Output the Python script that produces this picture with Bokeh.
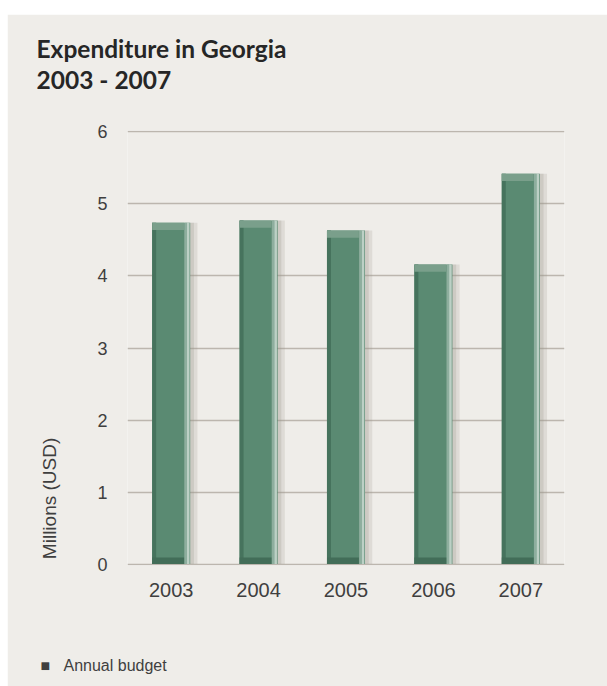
import numpy as np
from bokeh.plotting import figure
from bokeh.models import Range1d, FactorRange, ColumnDataSource, Title
from bokeh.transform import dodge
from bokeh.embed import file_html
from bokeh.resources import INLINE

# ---- data ----
years = ["2003", "2004", "2005", "2006", "2007"]
budget = [4.74, 4.77, 4.63, 4.16, 5.42]
y_ticks = [0, 1, 2, 3, 4, 5, 6]
title_lines = ["Expenditure in Georgia", "2003 - 2007"]
y_label = "Millions (USD)"
legend_label = "Annual budget"

BG = "#efede9"
TXT = "#3f3f3f"

b = np.array(budget)
src = ColumnDataSource(dict(year=years, budget=b, top_lo=b - 0.1,
                            zero=np.zeros(len(b)), bot_hi=np.full(len(b), 0.09)))

p = figure(x_range=FactorRange(*years), y_range=Range1d(-0.02, 6.02),
           frame_width=437, frame_height=435,
           min_border_left=120, min_border_right=43,
           min_border_top=116, min_border_bottom=121,
           output_backend="svg", toolbar_location=None,
           background_fill_color=BG, border_fill_color=BG,
           outline_line_color=None)
p.margin = (14, 0, 0, 7)

# grid
p.xgrid.grid_line_color = None
p.ygrid.ticker = y_ticks
p.ygrid.grid_line_color = "#bcb6ae"
p.ygrid.grid_line_width = 1.5
p.yaxis.ticker = y_ticks

for ax in (p.xaxis, p.yaxis):
    ax.axis_line_color = None
    ax.major_tick_line_color = None
    ax.minor_tick_line_color = None
    ax.major_label_text_font = "Liberation Sans"
    ax.major_label_text_color = TXT
p.xaxis.major_label_text_font_size = "20px"
p.yaxis.major_label_text_font_size = "18px"
p.xaxis.major_label_standoff = 11
p.yaxis.major_label_standoff = 14

# y-axis label, shifted toward the bottom of the axis with trailing no-break spaces
p.yaxis.axis_label = y_label + "\u00a0" * 57
p.yaxis.axis_label_text_font = "Liberation Sans"
p.yaxis.axis_label_text_font_style = "normal"
p.yaxis.axis_label_text_font_size = "19px"
p.yaxis.axis_label_text_color = TXT
p.yaxis.axis_label_standoff = 34

def dx(off):
    return dodge("year", off, range=p.x_range)

# shadow
p.vbar(x=dx(0.25), width=0.10, top="budget", bottom="zero", source=src,
       fill_color="#9a968c", fill_alpha=0.2, line_color=None)
p.vbar(x=dx(0.235), width=0.05, top="budget", bottom="zero", source=src,
       fill_color="#9a968c", fill_alpha=0.25, line_color=None)
# main bar
p.vbar(x=dx(0.0), width=0.435, top="budget", bottom="zero", source=src,
       fill_color="#5a8a72", line_color=None)
# left dark edge
p.vbar(x=dx(-0.195), width=0.046, top="budget", bottom="zero", source=src,
       fill_color="#46735d", line_color=None)
# right highlight
p.vbar(x=dx(0.165), width=0.03, top="budget", bottom="zero", source=src,
       fill_color="#8eae9e", line_color=None)
p.vbar(x=dx(0.195), width=0.03, top="budget", bottom="zero", source=src,
       fill_color="#bcd0c5", line_color=None)
# top face
p.vbar(x=dx(-0.035), width=0.365, top="budget", bottom="top_lo", source=src,
       fill_color="#7a9f8b", line_color=None)
# bottom face
p.vbar(x=dx(-0.035), width=0.365, top="bot_hi", bottom="zero", source=src,
       fill_color="#426d58", line_color=None)

# title lines: spacer panel next to the frame, then line 2, then line 1
p.add_layout(Title(text=" ", text_font_size="1px", standoff=34), "above")
for line in reversed(title_lines):
    p.add_layout(Title(text=line, align="left", offset=-91, standoff=0,
                       text_font="Lato", text_font_style="bold",
                       text_font_size="24.5px", text_color="#262626"), "above")

# legend key below the axis: spacer panel, then the key line
p.add_layout(Title(text=" ", text_font_size="1px", standoff=48), "below")
p.add_layout(Title(text="\u25a0\u00a0\u00a0\u00a0" + legend_label, align="left",
                   offset=-87, standoff=8, text_font="Liberation Sans",
                   text_font_style="normal", text_font_size="16px",
                   text_color=TXT), "below")

open("out.html", "w").write(file_html(p, INLINE))
